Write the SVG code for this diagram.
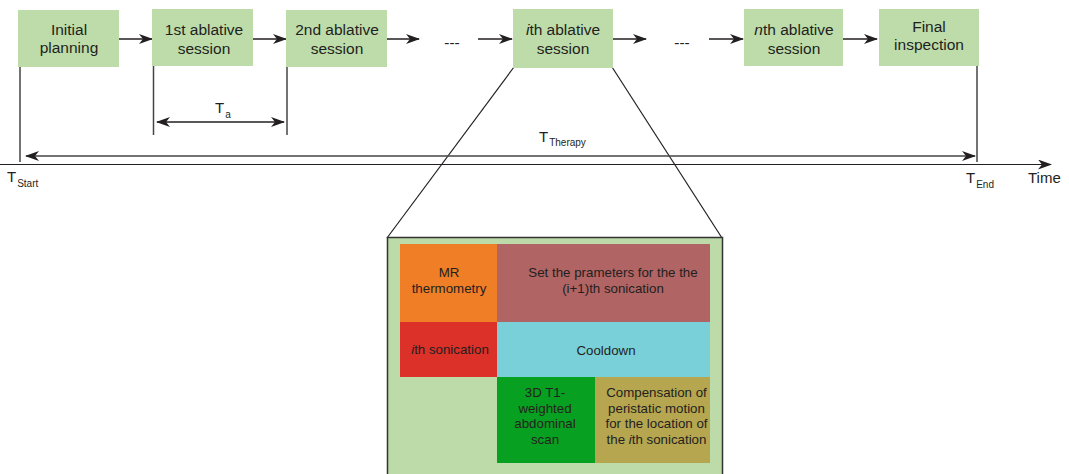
<svg xmlns="http://www.w3.org/2000/svg" width="1069" height="474" viewBox="0 0 1069 474">
<defs>
<marker id="ah" viewBox="0 0 14 10" refX="13" refY="5" markerWidth="14" markerHeight="10" markerUnits="userSpaceOnUse" orient="auto-start-reverse">
<path d="M0,0 L14,5 L0,10 L4,5 Z" fill="#231f20"/>
</marker>
<style>
.box{fill:#bddcaa;}
.t{font-family:"Liberation Sans",Arial,sans-serif;font-size:15.5px;fill:#231f20;text-anchor:middle;}
.s{font-family:"Liberation Sans",Arial,sans-serif;font-size:13.3px;fill:#231f20;text-anchor:middle;}
.lab{font-family:"Liberation Sans",Arial,sans-serif;font-size:15px;fill:#231f20;}
.sub{font-size:10px;}
.con{stroke:#231f20;stroke-width:1.5;fill:none;}
.vl{stroke:#444;stroke-width:1.5;fill:none;}
.thin{stroke:#231f20;stroke-width:1.2;fill:none;}
</style>
</defs>
<rect width="1069" height="474" fill="#fff"/>

<g id="zoom-detail">
<line class="thin" x1="514" y1="67" x2="387" y2="238"/>
<line class="thin" x1="612" y1="67" x2="722" y2="238"/>
<rect x="387.5" y="237.5" width="335" height="240" fill="#bddba9" stroke="#333" stroke-width="1.5"/>
<g id="mr"><rect x="400" y="244" width="97" height="78" fill="#f07e26"/>
<text class="s" x="449" y="277">MR</text><text class="s" x="449" y="293">thermometry</text></g>
<g id="setparam"><rect x="497" y="244" width="213" height="78" fill="#b06464"/>
<text class="s" x="613" y="277">Set the prameters for the the</text><text class="s" x="613" y="293">(i+1)th sonication</text></g>
<g id="sonication"><rect x="400" y="322" width="97" height="55" fill="#dc3128"/>
<text class="s" x="450" y="354"><tspan font-style="italic">i</tspan>th sonication</text></g>
<g id="cooldown"><rect x="497" y="322" width="213" height="55" fill="#79d0d8"/>
<text class="s" x="606" y="355">Cooldown</text></g>
<g id="scan"><rect x="497" y="377" width="98" height="86" fill="#08a020"/>
<text class="s" x="545" y="397">3D T1-</text><text class="s" x="545" y="412.5">weighted</text><text class="s" x="545" y="428">abdominal</text><text class="s" x="545" y="443.5">scan</text></g>
<g id="compensation"><rect x="595" y="377" width="115" height="86" fill="#b5a64f"/>
<text class="s" x="656.5" y="397">Compensation of</text><text class="s" x="656.5" y="412.5">peristatic motion</text><text class="s" x="656.5" y="428">for the location of</text><text class="s" x="656.5" y="443.5">the <tspan font-style="italic">i</tspan>th sonication</text></g>
</g>

<g id="connectors">
<line class="con" x1="119" y1="39" x2="152" y2="39" marker-end="url(#ah)"/>
<line class="con" x1="253" y1="39" x2="286" y2="39" marker-end="url(#ah)"/>
<line class="con" x1="387" y1="39" x2="419" y2="39" marker-end="url(#ah)"/>
<line class="con" x1="478" y1="39" x2="512" y2="39" marker-end="url(#ah)"/>
<line class="con" x1="613" y1="39" x2="646" y2="39" marker-end="url(#ah)"/>
<line class="con" x1="709" y1="39" x2="743" y2="39" marker-end="url(#ah)"/>
<line class="con" x1="843" y1="39" x2="877" y2="39" marker-end="url(#ah)"/>
<line class="vl" x1="20" y1="67" x2="20" y2="162"/>
<line class="vl" x1="153.5" y1="66" x2="153.5" y2="135"/>
<line class="vl" x1="287" y1="66" x2="287" y2="135"/>
<line class="vl" x1="977" y1="66" x2="977" y2="162"/>
<line class="con" x1="157" y1="122" x2="284" y2="122" marker-start="url(#ah)" marker-end="url(#ah)"/>
<line class="vl" x1="26" y1="156" x2="975" y2="156" marker-start="url(#ah)" marker-end="url(#ah)"/>
<line class="thin" x1="0" y1="164.5" x2="1051" y2="164.5" marker-end="url(#ah)"/>
</g>

<g id="n1"><rect class="box" x="18" y="10" width="101" height="57"/>
<text class="t" x="69" y="35">Initial</text><text class="t" x="69" y="53">planning</text></g>
<g id="n2"><rect class="box" x="152" y="9" width="101" height="57"/>
<text class="t" x="204" y="35">1st ablative</text><text class="t" x="204" y="54">session</text></g>
<g id="n3"><rect class="box" x="286" y="10" width="101" height="57"/>
<text class="t" x="337" y="35">2nd ablative</text><text class="t" x="337" y="54">session</text></g>
<g id="dots1"><text class="t" x="452" y="48">---</text></g>
<g id="n4"><rect class="box" x="513" y="9" width="100" height="59"/>
<text class="t" x="563" y="35"><tspan font-style="italic">i</tspan>th ablative</text><text class="t" x="563" y="54">session</text></g>
<g id="dots2"><text class="t" x="682" y="48">---</text></g>
<g id="n5"><rect class="box" x="744" y="9" width="99" height="57"/>
<text class="t" x="794" y="35"><tspan font-style="italic">n</tspan>th ablative</text><text class="t" x="794" y="54">session</text></g>
<g id="n6"><rect class="box" x="879" y="9" width="100" height="57"/>
<text class="t" x="929" y="32">Final</text><text class="t" x="929" y="50">inspection</text></g>

<g id="labels">
<text class="lab" x="215" y="113">T<tspan class="sub" dx="1" dy="5">a</tspan></text>
<text class="lab" x="539" y="142">T<tspan class="sub" dx="1" dy="4">Therapy</tspan></text>
<text class="lab" x="7" y="182">T<tspan class="sub" dx="1" dy="5">Start</tspan></text>
<text class="lab" x="966" y="183">T<tspan class="sub" dx="1" dy="5">End</tspan></text>
<text class="lab" x="1028" y="183">Time</text>
</g>
</svg>
